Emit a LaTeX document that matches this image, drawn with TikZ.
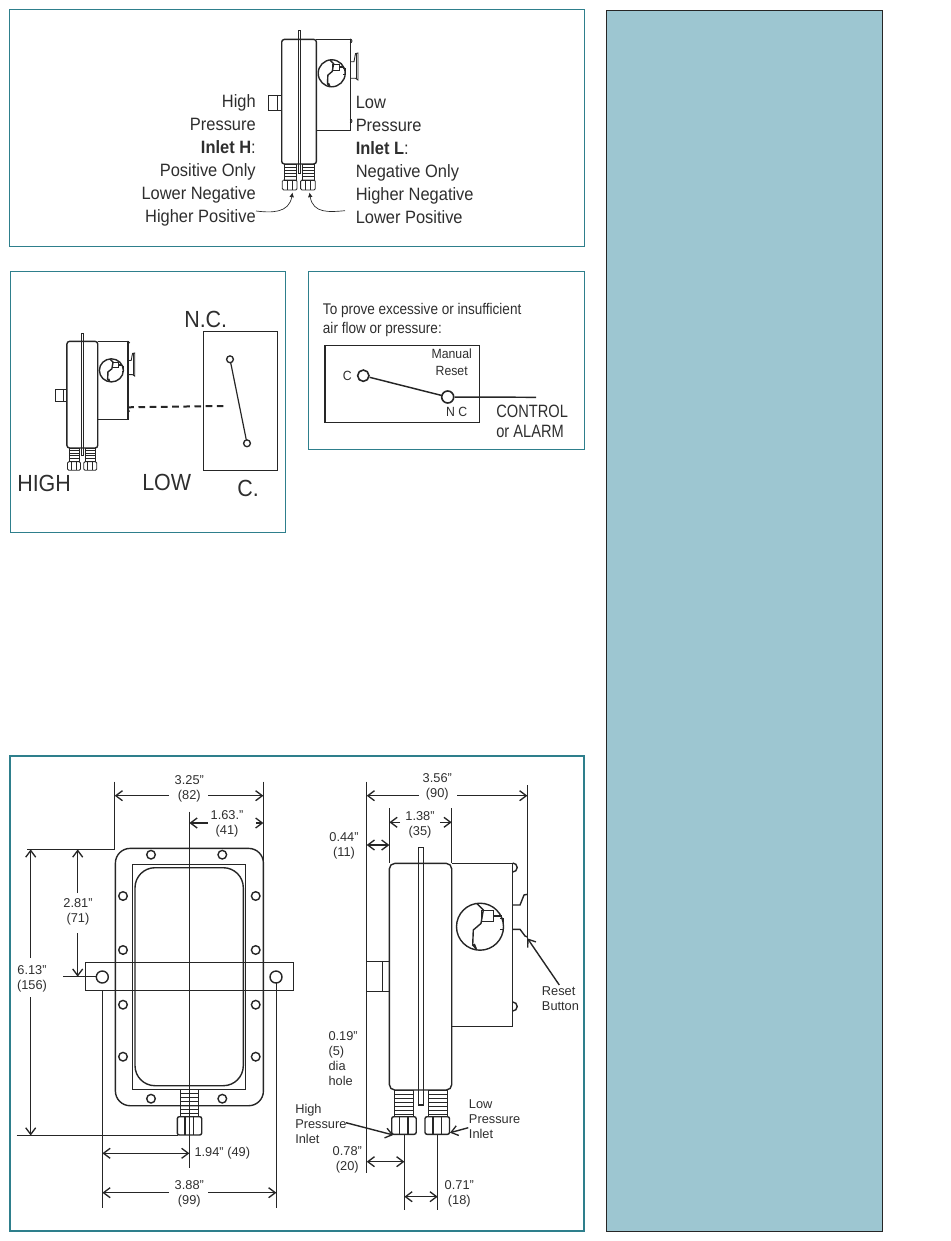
\documentclass[tikz,border=0pt]{standalone}
\usepackage{fontspec}
\setmainfont{Liberation Sans}
\newfontfamily\nara[FakeStretch=0.92]{Liberation Sans}
\newfontfamily\narb[FakeStretch=0.82]{Liberation Sans}
\newfontfamily\narc[FakeStretch=0.875]{Liberation Sans}
\usetikzlibrary{arrows.meta}
\definecolor{teal1}{HTML}{2E7F8C}
\definecolor{side}{HTML}{9DC6D1}
\definecolor{ink}{HTML}{262626}
\definecolor{txt}{HTML}{2E2E2E}
\tikzset{
  panel/.style={draw=teal1,line width=.75pt},
  dev/.style={draw=ink,line width=1.05pt},
  thin1/.style={draw=ink,line width=.65pt},
  dimline/.style={draw=ink,line width=1.05pt},
  dimarrow/.style={draw=ink,line width=1.05pt,-{Straight Barb[length=5pt,width=7.5pt,line width=1pt]}},
  dimboth/.style={draw=ink,line width=1.05pt,{Straight Barb[length=5pt,width=7.5pt,line width=1pt]}-{Straight Barb[length=5pt,width=7.5pt,line width=1pt]}},
  hole/.style={draw=ink,line width=1pt,fill=white},
  dimtxt/.style={font=\fontsize{9.6pt}{11.2pt}\selectfont,text=txt,inner sep=0pt,align=center},
  dimleft/.style={dimtxt,anchor=west,align=left},
  bigr/.style={font=\nara\fontsize{13.4pt}{17pt}\selectfont,text=txt,inner sep=0pt,anchor=base east},
  bigl/.style={font=\nara\fontsize{13.4pt}{17pt}\selectfont,text=txt,inner sep=0pt,anchor=base west},
  huge1/.style={font=\nara\fontsize{17.5pt}{20pt}\selectfont,text=txt,inner sep=0pt},
  mid1/.style={font=\narb\fontsize{13.4pt}{15pt}\selectfont,text=txt,inner sep=0pt,anchor=west},
  small1/.style={font=\nara\fontsize{10pt}{12pt}\selectfont,text=txt,inner sep=0pt},
}
% gauge detail, in units of the large view (radius 23.5)
\newcommand{\gaugedetail}{%
  \draw[dev] (-3.3,-23.3) -- (3.3,-16.7) -- (1,-3.3) -- (-6.7,3.3) -- (-7.3,18.3) -- (-4,21.7);
  \draw[thin1] (1.7,-16) rectangle (13.3,-5);
  \draw[draw=ink,line width=1.5pt] (13.3,-10.7) -- (21.7,-10.7);
  \draw[thin1] (20,-8.3) -- (23.3,-8.3) -- (23.3,2.7) -- (20,2.7);
  \draw[draw=ink,line width=1.5pt] (-6,17.3) -- (-4,22.3);
}
% small side view of the switch, written in the page pixels of the top panel
\newcommand{\smalldev}{%
  \draw[dev,rounded corners=2pt] (281.7,164) -- (281.7,39.4) -- (316.4,39.4) -- (316.4,164) -- cycle;
  \draw[thin1] (298,173) -- (298,30) -- (300.5,30) -- (300.5,173) -- cycle;
  \draw[dev] (316.4,39.4) -- (350.4,39.4) -- (350.4,130.4) -- (316.4,130.4);
  \draw[dev] (331.7,73.3) circle[radius=13.5];
  \begin{scope}[shift={(331.7,73.3)},scale=.574]\gaugedetail\end{scope}
  \draw[thin1] (268.3,95) rectangle (281.7,110);
  \draw[thin1] (277.5,95) -- (277.5,110);
  \draw[thin1] (350,61.7) -- (354,61.7) -- (355.5,53.5) -- (358,53) -- (358,80) -- (355.5,78.3) -- (350,78.3);
  \draw[thin1] (356,53.5) -- (356,79);
  \draw[thin1] (350,43) arc[start angle=90,end angle=-90,radius=2];
  \draw[thin1] (350,123) arc[start angle=90,end angle=-90,radius=2];
  \foreach \a in {284,302.3}{
    \draw[thin1] (\a,164) rectangle ++(12,16);
    \foreach \b in {167,170,173,176}{\draw[thin1] (\a,\b) -- ++(12,0);}
    \draw[thin1,rounded corners=1pt] (\a-1.7,180) rectangle ++(14.7,10);
    \draw[thin1] (\a+3,180) -- ++(0,10);
    \draw[thin1] (\a+8,180) -- ++(0,10);
  }
}
\begin{document}
\begin{tikzpicture}[x=.75pt,y=-.75pt]
\useasboundingbox (0,0) rectangle (950,1241);
% frames
\draw[draw=ink,line width=.6pt,fill=side] (606,10) rectangle (882.8,1231);
\draw[panel] (9.5,10) rectangle (584.5,247);
\draw[panel] (10,271) rectangle (285,532);
\draw[panel] (308,271) rectangle (584.5,449);
\draw[panel,line width=1.5pt] (10,756) rectangle (584,1231);

% --- panel 1
\smalldev
\node[bigr] (t1a) at (256,107.6) {High};
\node[bigr] (t1b) at (256,130.7) {Pressure};
\node[bigr] (t1c) at (256,153.5) {\textbf{Inlet H}:};
\node[bigr] (t1d) at (256,176.7) {Positive Only};
\node[bigr] (t1e) at (256,199.7) {Lower Negative};
\node[bigr] (t1f) at (256,222.4) {Higher Positive};
\node[bigl] (t2a) at (355.5,108.3) {Low};
\node[bigl] (t2b) at (355.5,131.5) {Pressure};
\node[bigl] (t2c) at (355.5,154.3) {\textbf{Inlet L}:};
\node[bigl] (t2d) at (355.5,177.3) {Negative Only};
\node[bigl] (t2e) at (355.5,200.3) {Higher Negative};
\node[bigl] (t2f) at (355.5,223.3) {Lower Positive};
\draw[draw=ink,line width=.5pt,-{Latex[length=3.5pt,width=3.5pt]}] (256,211) .. controls (272,213) and (289,213) .. (292.5,192.5);
\draw[draw=ink,line width=.5pt,-{Latex[length=3.5pt,width=3.5pt]}] (345,210.7) .. controls (330,212) and (313,214) .. (309.5,192.5);

% --- panel 2
\begin{scope}[shift={(55,333.3)},xscale=.889,yscale=.856,shift={(-268.3,-30)}]
\smalldev
\end{scope}
\draw[draw=ink,line width=.9pt] (203.3,331.7) rectangle (277.3,470.6);
\draw[draw=ink,line width=.9pt] (230,359.3) -- (247,443.3);
\draw[hole] (230,359.3) circle[radius=3.4];
\draw[hole] (247,443.3) circle[radius=3.4];
\draw[draw=ink,line width=1.5pt,dash pattern=on 5pt off 3.4pt] (127.3,407.3) -- (223.3,406);
\node[huge1,anchor=west] (nc) at (184,319) {N.C.};
\node[huge1,anchor=west] (hi) at (17,483.5) {HIGH};
\node[huge1,anchor=west] (lo) at (142,482) {LOW};
\node[huge1,anchor=west] (cc) at (237,488) {C.};

% --- panel 3
\node[mid1,font=\narc\fontsize{11.6pt}{14pt}\selectfont] (p3a) at (322.7,310.7) {To prove excessive or insufficient};
\node[mid1,font=\narc\fontsize{11.6pt}{14pt}\selectfont] (p3b) at (322.7,330) {air flow or pressure:};
\draw[draw=ink,line width=1.1pt] (325,345.4) rectangle (479.4,422.7);
\node[small1] (man) at (451.7,353.5) {Manual};
\node[small1] (res) at (451.7,370.5) {Reset};
\node[small1] (clab) at (347.3,375.7) {C};
\node[small1] (nclab) at (456.7,412.3) {N C};
\node[hole,line width=1.2pt,circle,minimum size=8.5pt,inner sep=0pt] (cpt) at (363.3,375.7) {};
\node[hole,line width=1.2pt,circle,minimum size=9pt,inner sep=0pt] (npt) at (447.7,397) {};
\draw[draw=ink,line width=1.1pt] (cpt) -- (npt);
\coordinate (ctrl) at (536,397.3);
\draw[draw=ink,line width=1.1pt] (npt) -- (ctrl);
\node[mid1] (con) at (496,411.7) {CONTROL};
\node[mid1] (ala) at (496,431.7) {or ALARM};

% --- panel 4, front view
\draw[dev,rounded corners=11pt] (115.4,848.4) rectangle (263.4,1105.7);
\draw[dev] (132.7,864.4) rectangle (245.7,1089.3);
\draw[dev,rounded corners=15pt] (135,867.7) rectangle (243.3,1085.7);
\foreach \p in {(151,854.7),(222.3,854.7),(123,896),(255.7,896),(123,950),(255.7,950),(123,1004.7),(255.7,1004.7),(123,1056.7),(255.7,1056.7),(151,1098.7),(222.3,1098.7)}{
  \draw[dev] \p circle[radius=4.3];
}
\draw[dev] (85.7,962.3) rectangle (293.4,990.7);
\draw[dimline] (102.4,990.7) -- (102.4,1207.7);
\draw[dimline] (276.4,983) -- (276.4,1207.7);
\draw[dev] (102.3,977) circle[radius=6];
\draw[dev] (276,977) circle[radius=6];
\draw[dimline] (114.7,781.7) -- (114.7,850);
\draw[dimline] (263.4,781.7) -- (263.4,860);
\draw[dimline] (189.4,811.7) -- (189.4,1167.7);
\draw[dimline] (27.3,849.4) -- (115,849.4);
\draw[dimline] (16.7,1135.5) -- (178,1135.5);
\draw[dimline] (63.3,976.7) -- (96,976.7);
% dimensions, front
\draw[dimarrow] (169,795.7) -- (114.7,795.7);
\draw[dimarrow] (208,795.7) -- (263.4,795.7);
\node[dimtxt] (d325) at (189.3,788.5) {3.25"\\(82)};
\draw[dimarrow] (208,823) -- (189.4,823);
\draw[dimarrow] (256,823) -- (263.4,823);
\node[dimtxt] (d163) at (227,824) {1.63."\\(41)};
\draw[dimarrow] (77.7,893) -- (77.7,849.4);
\draw[dimarrow] (77.7,933) -- (77.7,976.7);
\node[dimtxt] (d281) at (78,911.5) {2.81"\\(71)};
\draw[dimarrow] (30.7,958) -- (30.7,849.4);
\draw[dimarrow] (30.7,997) -- (30.7,1135.5);
\node[dimtxt] (d613) at (32,978.5) {6.13"\\(156)};
% fitting, front
\draw[thin1] (180,1089.3) rectangle (198.7,1116.7);
\foreach \b in {1093,1097,1101,1105,1109,1113}{\draw[thin1] (180,\b) -- (198.7,\b);}
\draw[dev,rounded corners=1.5pt] (177.3,1116.7) rectangle (201.7,1135);
\draw[dev] (185,1116.7) -- (185,1135);
\draw[dev] (193.3,1116.7) -- (193.3,1135);
\draw[dimboth] (102.4,1153.3) -- (189.4,1153.3);
\node[dimleft] (d194) at (194.3,1153.3) {1.94" (49)};
\draw[dimarrow] (169,1192.7) -- (102.4,1192.7);
\draw[dimarrow] (208,1192.7) -- (276.4,1192.7);
\node[dimtxt] (d388) at (189.3,1193.5) {3.88"\\(99)};

% --- panel 4, side view
\draw[dimline] (366.7,781.7) -- (366.7,1173.3);
\draw[dimline] (527.4,785) -- (527.4,946.7);
\draw[dimline] (389.4,808.3) -- (389.4,863.4);
\draw[dimline] (451.7,808.3) -- (451.7,863.4);
\draw[dev,rounded corners=4pt] (389.4,1090) -- (389.4,863.4) -- (451.7,863.4) -- (451.7,1090) -- cycle;
\draw[dev] (418.4,1105) -- (418.4,847.4) -- (423.4,847.4) -- (423.4,1105) -- cycle;
\draw[dev] (451.7,863.4) -- (512.7,863.4) -- (512.7,1026.7) -- (451.7,1026.7);
\draw[dev] (512.7,872) arc[start angle=90,end angle=-90,radius=4.5];
\draw[dev] (512.7,1011) arc[start angle=90,end angle=-90,radius=4.5];
\draw[dev] (480,926.7) circle[radius=23.5];
\begin{scope}[shift={(480,926.7)}]\gaugedetail\end{scope}
\draw[dev] (512.7,905) -- (520,905) -- (524,895) -- (527.4,894.3);
\draw[dev] (512.7,929.3) -- (520,929.3) -- (525,936) -- (527.4,937);
\draw[dev] (366.4,961.7) rectangle (389.4,991.4);
\draw[dev] (382.4,961.7) -- (382.4,991.4);
\foreach \a/\bb/\n in {394.3/391.7/hp,428.3/425/lp}{
  \draw[thin1] (\a,1090) rectangle ++(18.7,26.7);
  \foreach \b in {1094,1098,1102,1106,1110,1114}{\draw[thin1] (\a,\b) -- ++(18.7,0);}
  \draw[dev,rounded corners=1.5pt] (\bb,1116.7) rectangle ++(24.5,17.6);
  \draw[dev] (\bb+8,1116.7) -- ++(0,17.6);
  \draw[dev] (\bb+16.3,1116.7) -- ++(0,17.6);
}
\draw[dimline] (404.4,1134.3) -- (404.4,1210);
\draw[dimline] (437.7,1134.3) -- (437.7,1210);
\draw[dimarrow] (419,795.7) -- (366.7,795.7);
\draw[dimarrow] (457.3,795.7) -- (527.4,795.7);
\node[dimtxt] (d356) at (437.3,787) {3.56"\\(90)};
\draw[dimarrow] (400,822.3) -- (389.4,822.3);
\draw[dimarrow] (440,822.3) -- (451.7,822.3);
\node[dimtxt] (d138) at (420,824.5) {1.38"\\(35)};
\draw[dimboth] (366.7,845) -- (389.4,845);
\node[dimtxt] (d044) at (344,846.2) {0.44"\\(11)};
\draw[dimboth] (366.7,1161.7) -- (404.4,1161.7);
\node[dimtxt] (d078) at (347.3,1160) {0.78"\\(20)};
\draw[dimboth] (404.4,1196.7) -- (437.7,1196.7);
\node[dimtxt] (d071) at (459.3,1193.5) {0.71"\\(18)};
\node[dimleft] (d019) at (328.3,1058.5) {0.19"\\(5)\\dia\\hole};
\node[dimleft] (hpi) at (295,1123.5) {High\\Pressure\\Inlet};
\node[dimleft] (lpi) at (468.7,1119.5) {Low\\Pressure\\Inlet};
\node[dimleft] (rb) at (541.7,999) {Reset\\Button};
\coordinate (hpe) at (393.3,1135);
\coordinate (hps) at (346,1122.7);
\coordinate (lpe) at (450,1132.7);
\coordinate (lps) at (468.3,1127.7);
\coordinate (rbe) at (527.4,938.3);
\coordinate (rbs) at (559.3,985);
\draw[dimarrow] (hps) -- (hpe);
\draw[dimarrow] (lps) -- (lpe);
\draw[dimarrow] (rbs) -- (rbe);
\end{tikzpicture}
\end{document}
